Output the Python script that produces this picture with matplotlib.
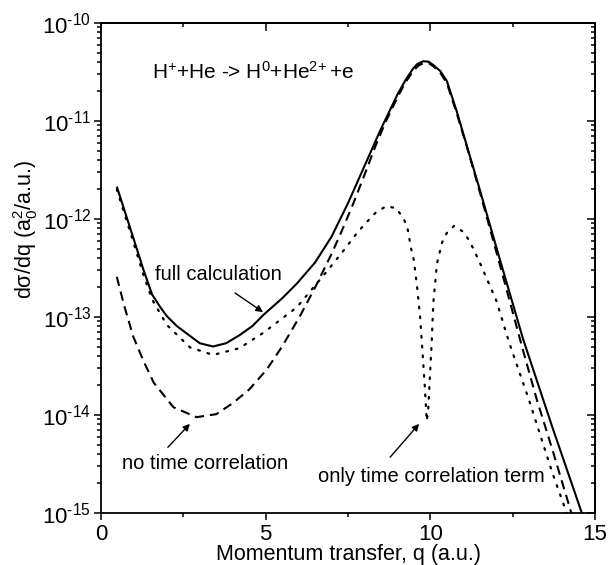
import matplotlib
matplotlib.use("Agg")
import numpy as np
import matplotlib.pyplot as plt
from matplotlib.ticker import MultipleLocator, LogLocator, NullFormatter, FuncFormatter

plt.rcParams['font.family'] = ['Liberation Sans', 'DejaVu Sans']
plt.rcParams['mathtext.fontset'] = 'custom'
plt.rcParams['mathtext.rm'] = 'Liberation Sans'
plt.rcParams['mathtext.it'] = 'Liberation Sans:italic'
plt.rcParams['mathtext.bf'] = 'Liberation Sans:bold'
plt.rcParams['axes.unicode_minus'] = False

# ---- data ----
q_full = [0.48, 0.97, 1.28, 1.55, 1.8, 2.0, 2.3, 2.6, 3.0, 3.4, 3.8, 4.2, 4.6, 4.93,
          5.5, 5.95, 6.5, 7.0, 7.5, 8.0, 8.5, 9.0, 9.25, 9.47, 9.6, 9.78, 9.95, 10.1,
          10.3, 10.5, 10.8, 11.15, 11.5, 12.03, 12.82, 13.7, 14.6]
y_full = [2.14e-12, 6.6e-13, 3.1e-13, 1.7e-13, 1.26e-13, 1.02e-13, 8.1e-14, 6.8e-14,
          5.4e-14, 5.0e-14, 5.4e-14, 6.5e-14, 8.1e-14, 1.05e-13, 1.55e-13, 2.2e-13,
          3.6e-13, 6.6e-13, 1.45e-12, 3.47e-12, 8.3e-12, 1.86e-11, 2.63e-11, 3.4e-11,
          3.8e-11, 4.07e-11, 4.03e-11, 3.7e-11, 3.24e-11, 2.57e-11, 1.26e-11, 5.0e-12,
          2.0e-12, 4.8e-13, 5.9e-14, 7.6e-15, 1.0e-15]

q_notc = [0.48, 0.7, 0.98, 1.3, 1.6, 2.2, 2.9, 3.5, 4.0, 4.5, 5.03, 5.5, 6.04, 6.5,
          7.0, 7.3, 7.65, 8.0, 8.32, 8.6, 9.0, 9.25, 9.5, 9.65, 9.8, 9.95, 10.1, 10.3,
          10.5, 10.8, 11.15, 11.5, 12.03, 12.82, 13.24, 13.7, 14.15, 14.3]
y_notc = [2.57e-13, 1.32e-13, 6.3e-14, 3.5e-14, 2.14e-14, 1.2e-14, 9.5e-15, 1.02e-14,
          1.32e-14, 1.82e-14, 2.9e-14, 5.0e-14, 1.02e-13, 2.0e-13, 4.4e-13, 7.4e-13,
          1.41e-12, 2.82e-12, 5.4e-12, 9.1e-12, 1.74e-11, 2.5e-11, 3.3e-11, 3.7e-11,
          3.9e-11, 3.9e-11, 3.6e-11, 3.1e-11, 2.45e-11, 1.2e-11, 4.9e-12, 1.9e-12,
          4.3e-13, 4.5e-14, 1.41e-14, 4.5e-15, 1.41e-15, 9.5e-16]

q_tc = [0.48, 0.97, 1.28, 1.55, 2.0, 2.7, 3.4, 4.2, 4.93, 5.95, 6.85, 7.33, 7.8, 8.07,
        8.35, 8.66, 8.96, 9.18, 9.3, 9.41, 9.5, 9.6, 9.69, 9.76, 9.83, 9.89, 9.93,
        10.04, 10.09, 10.2, 10.36, 10.5, 10.72, 11.0, 11.2, 11.5, 12.0, 12.4, 13.0,
        13.7, 14.25]
y_tc = [2.0e-12, 6.0e-13, 2.75e-13, 1.51e-13, 8.3e-14, 4.9e-14, 4.1e-14, 4.8e-14,
        6.9e-14, 1.26e-13, 2.9e-13, 4.6e-13, 7.4e-13, 9.3e-13, 1.17e-12, 1.35e-12,
        1.29e-12, 1.02e-12, 8.3e-13, 5.1e-13, 3.8e-13, 2.0e-13, 1.0e-13, 4.5e-14,
        2.0e-14, 8.7e-15, 1.05e-14, 5.4e-14, 1.38e-13, 3.5e-13, 5.8e-13, 7.2e-13,
        8.5e-13, 7.4e-13, 5.9e-13, 3.6e-13, 1.48e-13, 5.4e-14, 1.41e-14, 2.6e-15,
        7.9e-16]

x_ticks = [0, 5, 10, 15]
y_ticks = [1e-15, 1e-14, 1e-13, 1e-12, 1e-11, 1e-10]

# ---- figure ----
W, H = 608, 565
fig = plt.figure(figsize=(W / 100, H / 100), dpi=100)
ax = fig.add_axes([101 / W, 1 - 513 / H, (595 - 101) / W, (513 - 23) / H])

ax.plot(q_full, y_full, color='black', lw=1.5, solid_capstyle='butt')
ax.plot(q_notc, y_notc, color='black', lw=1.5, linestyle=(0, (4.5, 2.8)))
ax.plot(q_tc, y_tc, color='black', lw=1.6, linestyle=(0, (0.8, 3.6)),
        dash_capstyle='round')

ax.set_yscale('log')
ax.set_xlim(0, 15)
ax.set_ylim(1e-15, 1e-10)
ax.set_xticks(x_ticks)
ax.set_yticks(y_ticks)
ax.xaxis.set_minor_locator(MultipleLocator(2.5))
ax.yaxis.set_minor_locator(LogLocator(base=10, subs=range(2, 10), numticks=10))
ax.yaxis.set_minor_formatter(NullFormatter())


def log_fmt(v, pos):
    e = int(round(np.log10(v)))
    return '10$^{\\text{%d}}$' % e


ax.yaxis.set_major_formatter(FuncFormatter(log_fmt))

for s in ax.spines.values():
    s.set_linewidth(1.3)

ax.tick_params(axis='both', which='both', direction='out', top=False, right=False,
               labelsize=16, width=1.1)
ax.tick_params(axis='both', which='major', length=5)
ax.tick_params(axis='both', which='minor', length=3)
ax.tick_params(axis='x', pad=3)
ax.tick_params(axis='y', pad=2)

secx = ax.secondary_xaxis('top')
secx.set_xticks(x_ticks)
secx.xaxis.set_minor_locator(MultipleLocator(2.5))
secx.xaxis.set_major_formatter(NullFormatter())
secx.tick_params(axis='x', which='both', direction='in', labeltop=False, width=1.1)
secx.tick_params(axis='x', which='major', length=6)
secx.tick_params(axis='x', which='minor', length=3)
secx.spines['top'].set_linewidth(1.3)

secy = ax.secondary_yaxis('right')
secy.set_yticks(y_ticks)
secy.yaxis.set_minor_locator(LogLocator(base=10, subs=range(2, 10), numticks=10))
secy.yaxis.set_major_formatter(NullFormatter())
secy.yaxis.set_minor_formatter(NullFormatter())
secy.tick_params(axis='y', which='both', direction='in', labelright=False, width=1.1)
secy.tick_params(axis='y', which='major', length=6)
secy.tick_params(axis='y', which='minor', length=3)
secy.spines['right'].set_linewidth(1.3)

ax.set_xlabel('Momentum transfer, q (a.u.)', fontsize=15.5, labelpad=-1)
ax.set_ylabel('d\u03c3/dq (a$_0^2$/a.u.)', fontsize=15.5, va='center')
ax.yaxis.set_label_coords(-0.152, 0.578)

ax.text(1.55, 10 ** -10.5, r'H$^{+}$+He -> H$^{0}$+He$^{2\!+}$+e', fontsize=15,
        ha='left', va='center')

arrow = dict(arrowstyle='-|>', color='black', lw=1.0, mutation_scale=10,
             shrinkA=0, shrinkB=0)

ax.text(3.55, 10 ** -12.57, 'full calculation', fontsize=14.5, ha='center', va='center')
ax.annotate('', xy=(4.92, 10 ** -12.95), xytext=(4.07, 10 ** -12.755), arrowprops=arrow)

ax.text(3.16, 10 ** -14.49, 'no time correlation', fontsize=14.5, ha='center', va='center')
ax.annotate('', xy=(2.70, 10 ** -14.09), xytext=(2.03, 10 ** -14.33), arrowprops=arrow)

ax.text(10.02, 10 ** -14.63, 'only time correlation term', fontsize=14.5,
        ha='center', va='center')
ax.annotate('', xy=(9.66, 10 ** -14.09), xytext=(8.78, 10 ** -14.43), arrowprops=arrow)

fig.savefig('out.png', dpi=100)
